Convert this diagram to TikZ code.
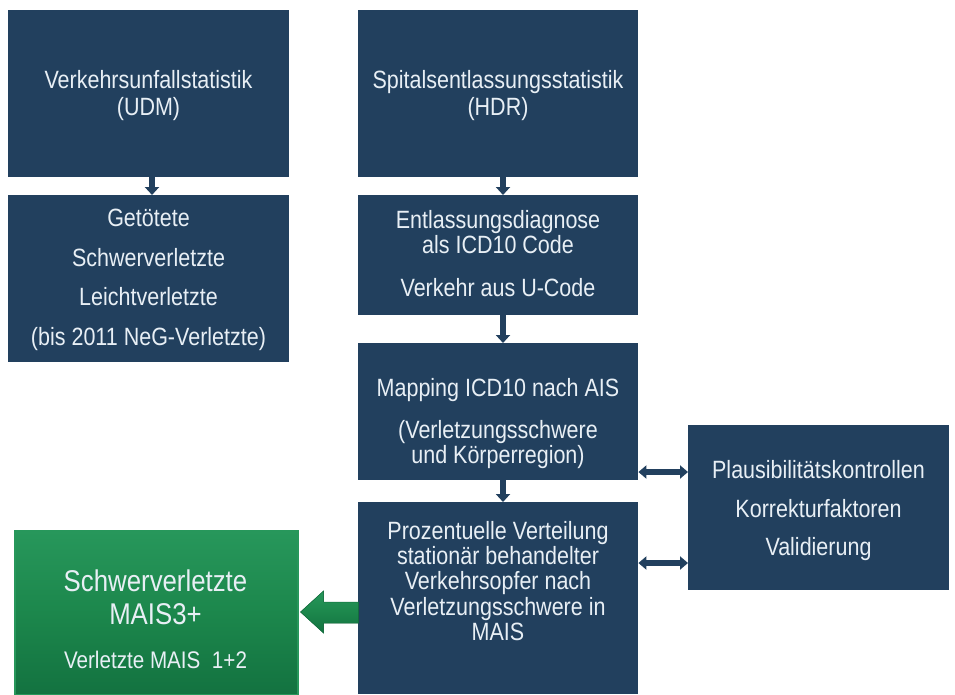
\documentclass[tikz,border=0pt]{standalone}
\usepackage{fontspec}
\setmainfont[FakeStretch=0.86]{Liberation Sans}
\usetikzlibrary{arrows.meta}
\definecolor{boxblue}{HTML}{22405E}
\definecolor{txtwhite}{HTML}{E8EFF5}
\definecolor{grn}{HTML}{1C874C}
\definecolor{grnlight}{HTML}{27975B}
\definecolor{grndark}{HTML}{137240}
\tikzset{
  bluebox/.style={fill=boxblue, draw=none, anchor=north west, inner sep=0pt},
  txt/.style={text=txtwhite, align=center, inner sep=0pt},
  flowarrow/.style={draw=boxblue, line width=6pt, -{Triangle[width=14pt,length=8pt]}},
  duoarrow/.style={draw=boxblue, line width=6pt, {Triangle[width=13pt,length=8pt]}-{Triangle[width=13pt,length=8pt]}},
}
\begin{document}
\begin{tikzpicture}[x=1pt,y=-1pt]
\useasboundingbox (0,0) rectangle (955,694);
\fill[white] (0,0) rectangle (955,694);
% boxes
\node[bluebox, minimum width=281pt, minimum height=167pt] (A) at (8,10) {};
\node[bluebox, minimum width=281pt, minimum height=167pt] (B) at (8,195) {};
\node[bluebox, minimum width=280pt, minimum height=167pt] (C) at (358,10) {};
\node[bluebox, minimum width=280pt, minimum height=120pt] (D) at (358,195) {};
\node[bluebox, minimum width=280pt, minimum height=137pt] (E) at (358,343) {};
\node[bluebox, minimum width=280pt, minimum height=192pt] (F) at (358,502) {};
\node[bluebox, minimum width=261pt, minimum height=165pt] (G) at (688,425) {};
% green box
\node[anchor=north west, minimum width=283pt, minimum height=164pt, inner sep=0pt,
      top color=grnlight, bottom color=grndark, middle color=grn, draw=grnlight, line width=1.5pt] (H) at (14,530) {};
% texts
\node[txt, font=\fontsize{25}{27}\selectfont] (At) at (148.5,96) {Verkehrsunfallstatistik\\(UDM)};
\node[txt, font=\fontsize{25}{27}\selectfont] (Ct) at (498,96) {Spitalsentlassungsstatistik\\(HDR)};
\node[txt, font=\fontsize{25}{39.5}\selectfont] (Bt) at (148.5,280) {Getötete\\Schwerverletzte\\Leichtverletzte\\(bis 2011 NeG-Verletzte)};
\node[txt, font=\fontsize{25}{25}\selectfont] (Dt) at (498,254) {Entlassungsdiagnose\\als ICD10 Code\\[18pt]Verkehr aus U-Code};
\node[txt, font=\fontsize{25}{25}\selectfont] (Et) at (498,424) {Mapping ICD10 nach AIS\\[17pt](Verletzungsschwere\\und Körperregion)};
\node[txt, font=\fontsize{25}{25.3}\selectfont] (Ft) at (498,581) {Prozentuelle Verteilung\\stationär behandelter\\Verkehrsopfer nach\\Verletzungsschwere in\\MAIS};
\node[txt, font=\fontsize{25}{38.5}\selectfont] (Gt) at (818.5,511) {Plausibilitätskontrollen\\Korrekturfaktoren\\Validierung};
\node[txt, font=\fontsize{30}{33}\selectfont] (Ht1) at (155.5,597) {Schwerverletzte\\MAIS3+};
\node[txt, font=\fontsize{24}{25}\selectfont] (Ht2) at (155.5,660) {Verletzte MAIS\ \ 1+2};
% flow arrows
\draw[flowarrow] (A.south -| 152,0) -- (B.north -| 152,0);
\draw[flowarrow] (C.south -| 503,0) -- (D.north -| 503,0);
\draw[flowarrow] (D.south -| 503,0) -- (E.north -| 503,0);
\draw[flowarrow] (E.south -| 503,0) -- (F.north -| 503,0);
\draw[duoarrow] (E.east |- 0,472) -- (G.west |- 0,472);
\draw[duoarrow] (F.east |- 0,563) -- (G.west |- 0,563);
% green block arrow
\coordinate (gtip) at (H.east |- 0,612);
\fill[top color=grnlight, bottom color=grndark, middle color=grn, draw=grndark, line width=0.5pt]
  ([xshift=2pt]gtip) -- ++(23,-21) -- ++(0,11) -- ++(35,0) -- ++(0,21) -- ++(-35,0) -- ++(0,10) -- cycle;
\end{tikzpicture}
\end{document}
